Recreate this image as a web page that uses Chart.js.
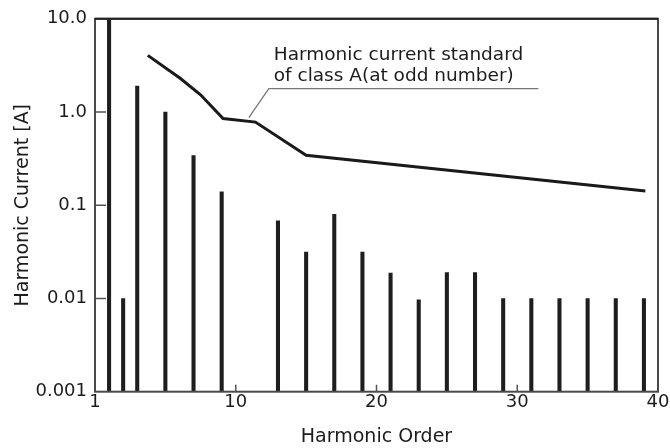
<!DOCTYPE html>
<html>
<head>
<meta charset="utf-8">
<script src="https://cdn.jsdelivr.net/npm/chart.js@4"></script>
<style>
html,body{margin:0;padding:0;background:#fff;}
#wrap{width:670px;height:448px;}
</style>
</head>
<body>
<div id="wrap"><canvas id="c" width="670" height="448"></canvas></div>
<script>
// ---- data ----
const harmonicOrders = [1, 2, 3, 5, 7, 9, 13, 15, 17, 19, 21, 23, 25, 27, 29, 31, 33, 35, 37, 39];
const measuredCurrent = [10, 0.01, 1.9, 1.0, 0.34, 0.139, 0.068, 0.0315, 0.08, 0.0315, 0.0187, 0.0097, 0.019, 0.019, 0.01, 0.01, 0.01, 0.01, 0.01, 0.01];
const limitOrders = [3.75, 6.05, 7.5, 9.1, 11.4, 15, 39.1];
const limitCurrent = [4.05, 2.3, 1.53, 0.85, 0.78, 0.343, 0.1425];
const xTickValues = [0, 10, 20, 30, 40];
const xTickLabels = ["1", "10", "20", "30", "40"];
const yTickValues = [0.001, 0.01, 0.1, 1, 10];
const yTickLabels = ["0.001", "0.01", "0.1", "1.0", "10.0"];
const noteLines = ["Harmonic current standard", "of class A(at odd number)"];

const FONT = "'DejaVu Sans', sans-serif";
const TXT = '#1c1c1c';

const framePlugin = {
  id: 'frame',
  afterDraw(chart) {
    const ctx = chart.ctx;
    const a = chart.chartArea;
    const xs = chart.scales.x, ys = chart.scales.y;
    const L = a.left, R = a.right, T = a.top, B = a.bottom;
    ctx.save();
    ctx.lineWidth = 2;
    ctx.strokeStyle = '#4a4a4a';
    ctx.strokeRect(L, T, R - L, B - T);
    ctx.beginPath();
    ctx.strokeStyle = '#222222';
    ctx.moveTo(L, T);
    ctx.lineTo(R, T);
    ctx.stroke();
    // inward ticks
    ctx.lineWidth = 1.5;
    ctx.strokeStyle = '#555555';
    ctx.beginPath();
    xTickValues.forEach(v => {
      const px = xs.getPixelForValue(v);
      if (px > L + 2 && px < R - 2) { ctx.moveTo(px, B); ctx.lineTo(px, B - 7); }
    });
    yTickValues.forEach(v => {
      const py = ys.getPixelForValue(v);
      if (py > T + 2 && py < B - 2) { ctx.moveTo(L, py); ctx.lineTo(L + 11, py); }
    });
    ctx.stroke();
    // annotation leader
    const o = chart.options.plugins.frame;
    const p0x = xs.getPixelForValue(o.tip[0]), p0y = ys.getPixelForValue(o.tip[1]);
    const p1x = xs.getPixelForValue(o.elbow[0]), p1y = ys.getPixelForValue(o.elbow[1]);
    const p2x = xs.getPixelForValue(o.end);
    ctx.strokeStyle = '#777777';
    ctx.lineWidth = 1.3;
    ctx.beginPath();
    ctx.moveTo(p0x, p0y);
    ctx.lineTo(p1x, p1y);
    ctx.lineTo(p2x, p1y);
    ctx.stroke();
    ctx.fillStyle = TXT;
    ctx.font = "18.5px " + FONT;
    ctx.textBaseline = 'alphabetic';
    ctx.textAlign = 'left';
    const tx = xs.getPixelForValue(o.textX);
    noteLines.forEach((t, i) => {
      ctx.fillText(t, tx, ys.getPixelForValue(o.baselines[i]));
    });
    ctx.restore();
  }
};

new Chart(document.getElementById('c'), {
  type: 'bar',
  data: {
    datasets: [
      {
        type: 'line',
        data: limitOrders.map((h, i) => ({x: h, y: limitCurrent[i]})),
        borderColor: '#1a1a1a',
        borderWidth: 3,
        pointRadius: 0,
        tension: 0,
        fill: false,
        order: 0
      },
      {
        type: 'bar',
        data: harmonicOrders.map((h, i) => ({x: h, y: measuredCurrent[i]})),
        backgroundColor: '#1e1e1e',
        barThickness: 3.4,
        order: 1
      }
    ]
  },
  options: {
    responsive: false,
    animation: false,
    layout: {padding: {left: 0, right: 12, top: 15.2, bottom: 0}},
    plugins: {
      legend: {display: false},
      tooltip: {enabled: false},
      frame: {
        tip: [10.93, 0.87],
        elbow: [12.35, 1.78],
        end: 31.5,
        textX: 12.7,
        baselines: [3.65, 2.13]
      }
    },
    scales: {
      x: {
        type: 'linear',
        min: 0, max: 40,
        offset: false,
        grid: {display: false, drawTicks: false},
        border: {display: false},
        afterBuildTicks: s => { s.ticks = xTickValues.map(v => ({value: v})); },
        afterFit: s => { s.height = 56.3; },
        ticks: {
          autoSkip: false, maxRotation: 0, padding: 0,
          color: TXT, font: {family: FONT, size: 18},
          callback: (v) => { const i = xTickValues.indexOf(v); return i >= 0 ? xTickLabels[i] : ''; }
        },
        title: {display: true, text: 'Harmonic Order', color: TXT, font: {family: FONT, size: 19}, padding: {top: 0, bottom: 0}}
      },
      y: {
        type: 'logarithmic',
        min: 0.001, max: 10,
        grid: {display: false, drawTicks: false},
        border: {display: false},
        afterBuildTicks: s => { s.ticks = yTickValues.map(v => ({value: v})); },
        afterFit: s => { s.width = 95; },
        ticks: {
          autoSkip: false, padding: 8,
          color: TXT, font: {family: FONT, size: 18},
          callback: (v) => { const i = yTickValues.indexOf(v); return i >= 0 ? yTickLabels[i] : ''; }
        },
        title: {display: true, text: 'Harmonic Current [A]', color: TXT, font: {family: FONT, size: 19}, padding: {top: 11.6, bottom: 0}}
      }
    }
  },
  plugins: [framePlugin]
});
</script>
</body>
</html>
